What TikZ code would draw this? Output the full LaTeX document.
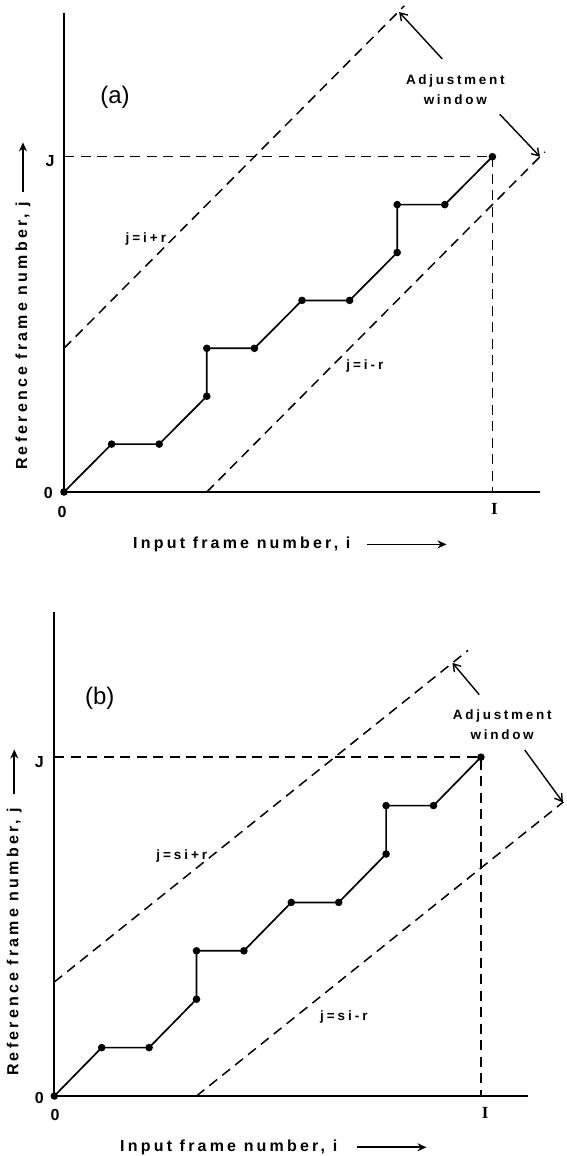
\documentclass[tikz,border=0pt]{standalone}
\usepackage{fontspec}
\setmainfont{Liberation Sans}
\newfontfamily\lettering{Liberation Sans}[LetterSpace=20]
\newfontfamily\eqlettering{Liberation Sans}[LetterSpace=22]
\newfontfamily\romanI{Liberation Serif}
\usetikzlibrary{arrows.meta,positioning,calc}

\tikzset{
    axis/.style={line width=2pt},
    warp/.style={line width=1.7pt, line join=round},
    windowline/.style={line width=1.5pt, dash pattern=on 10pt off 6.5pt},
    dot/.style={circle, fill, inner sep=0pt, minimum size=7.6pt},
    pointer/.style={line width=1.4pt, -{Straight Barb[length=7pt,width=9pt]}},
    textarrow/.style={line width=1.6pt, -{Stealth[length=9pt,width=8pt]}},
    axlabel/.style={inner sep=0pt, font=\lettering\bfseries\fontsize{16}{18}\selectfont},
    eqlabel/.style={inner sep=0pt, font=\eqlettering\bfseries\fontsize{13.5}{16}\selectfont},
    winlabel/.style={inner sep=0pt, align=center, font=\lettering\bfseries\fontsize{13.5}{20}\selectfont},
    ticklabel/.style={inner sep=0pt, font=\bfseries\fontsize{16}{16}\selectfont},
    ilabel/.style={inner sep=0pt, font=\romanI\bfseries\fontsize{17}{17}\selectfont},
    panellabel/.style={inner sep=0pt, font=\fontsize{24}{24}\selectfont}
}

% warping path, same in both panels
\def\warppath{0/0,1/1,2/1,3/2,3/3,4/3,5/4,6/4,7/5,7/6,8/6,9/7}

\begin{document}
\begin{tikzpicture}
\useasboundingbox (0,0) rectangle (567pt,-1156pt);

% (a)
\begin{scope}[shift={(64pt,-492pt)}, x=47.6pt, y=47.9pt]
    \draw[axis] (0,10) -- (0,0) -- (10,0);
    \draw[windowline] (0,7) -- (9,7) -- (9,0);
    \draw[windowline] (0,3) -- (7.15,10.15);
    \draw[windowline] (3,0) -- (10.1,7.1);
    \foreach \x/\y [count=\k] in \warppath
        \node[dot] (a\k) at (\x,\y) {};
    \draw[warp] (a1.center) \foreach \k in {2,...,12}{ -- (a\k.center)};

    \node[panellabel] (tagA) at (1.07,8.25) {(a)};
    \node[ticklabel] (jA) at (-0.29,6.91) {J};
    \node[ticklabel] (oyA) at (-0.33,-0.02) {0};
    \node[ticklabel] (oxA) at (-0.04,-0.41) {0};
    \node[ilabel] (iA) at (9.04,-0.36) {I};
    \node[eqlabel] (upA) at (1.72,5.28) {j=i+r};
    \node[eqlabel] (loA) at (6.32,2.63) {j=i-r};

    \node[winlabel] (winA) at (8.22,8.39) {Adjustment\\window};
    \coordinate (tipA1) at (7.04,10.02);
    \coordinate (tipA2) at (10,7);
    \draw[pointer] ([shift={(-13pt,16pt)}]winA.north) -- (tipA1);
    \draw[pointer] ([shift={(-5pt,-9pt)}]winA.south east) -- (tipA2);

    \node[axlabel, anchor=base west] (xlabA) at (1.45,-1.18) {Input frame number, i};
    \draw[textarrow] ([xshift=16pt]xlabA.east) -- ++(80pt,0);
    \node[axlabel, anchor=base west, rotate=90] (ylabA) at (-0.775,0.46) {Reference frame number, j};
    \draw[textarrow] ([yshift=9pt]ylabA.east) -- ++(0,50pt);
\end{scope}

% (b)
\begin{scope}[shift={(54.3pt,-1096pt)}, x=47.4pt, y=48.4pt]
    \def\winslope{0.785}
    \draw[axis] (0,10) -- (0,0) -- (10,0);
    \draw[windowline] (0,7) -- (9,7) -- (9,0);
    \draw[windowline] (0,{3*\winslope}) -- (8.73,{11.73*\winslope});
    \draw[windowline] (3,0) -- (10.74,{7.74*\winslope});
    \foreach \x/\y [count=\k] in \warppath
        \node[dot] (b\k) at (\x,\y) {};
    \draw[warp] (b1.center) \foreach \k in {2,...,12}{ -- (b\k.center)};

    \node[panellabel] (tagB) at (0.96,8.22) {(b)};
    \node[ticklabel] (jB) at (-0.317,6.89) {J};
    \node[ticklabel] (oyB) at (-0.317,-0.035) {0};
    \node[ticklabel] (oxB) at (0.015,-0.40) {0};
    \node[ilabel] (iB) at (9.09,-0.345) {I};
    \node[eqlabel] (upB) at (2.69,4.96) {j=si+r};
    \node[eqlabel] (loB) at (6.11,1.63) {j=si-r};

    \node[winlabel] (winB) at (9.45,7.67) {Adjustment\\window};
    \coordinate (tipB1) at (8.40,{11.4*\winslope});
    \coordinate (tipB2) at (10.73,{7.73*\winslope});
    \draw[pointer] ([shift={(-23pt,15pt)}]winB.north) -- (tipB1);
    \draw[pointer] ([shift={(-27pt,-10pt)}]winB.south east) -- (tipB2);

    \node[axlabel, anchor=base west] (xlabB) at (1.386,-1.145) {Input frame number, i};
    \draw[textarrow] ([xshift=20pt]xlabB.east) -- ++(69pt,0);
    \node[axlabel, anchor=base west, rotate=90] (ylabB) at (-0.757,0.413) {Reference frame number, j};
    \draw[textarrow] ([yshift=13pt]ylabB.east) -- ++(0,45pt);
\end{scope}
\end{tikzpicture}
\end{document}
